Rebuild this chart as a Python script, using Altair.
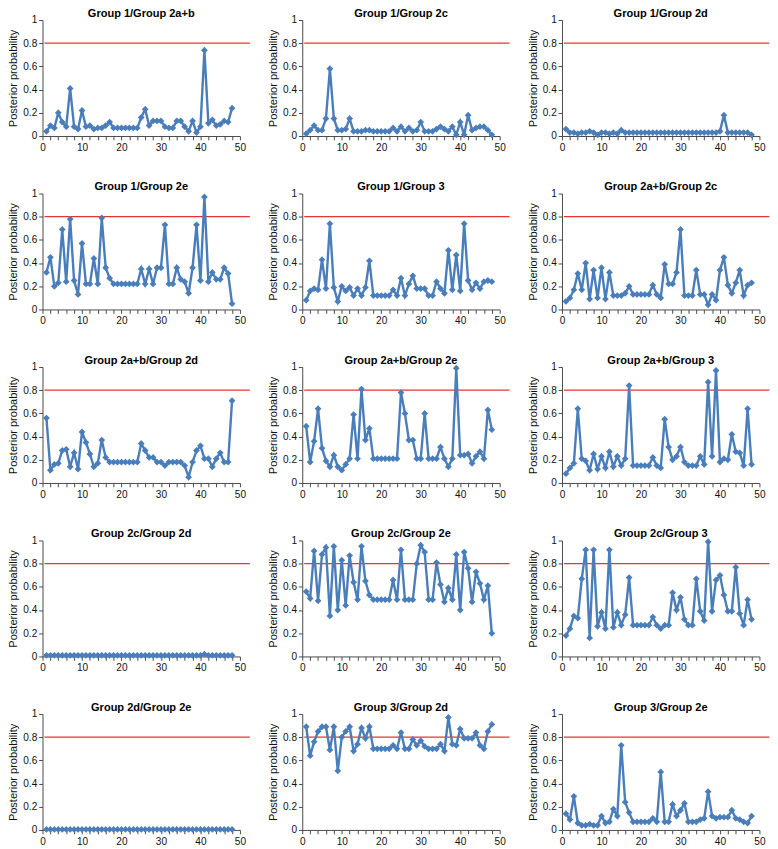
import altair as alt
import pandas as pd

x_vals = list(range(1, 49))

names = [
    "Group 1/Group 2a+b", "Group 1/Group 2c", "Group 1/Group 2d",
    "Group 1/Group 2e", "Group 1/Group 3", "Group 2a+b/Group 2c",
    "Group 2a+b/Group 2d", "Group 2a+b/Group 2e", "Group 2a+b/Group 3",
    "Group 2c/Group 2d", "Group 2c/Group 2e", "Group 2c/Group 3",
    "Group 2d/Group 2e", "Group 3/Group 2d", "Group 3/Group 2e",
]

g1_g2ab = [0.04, 0.09, 0.07, 0.20, 0.12, 0.08, 0.41, 0.08, 0.06, 0.22, 0.08, 0.09,
           0.06, 0.07, 0.07, 0.09, 0.12, 0.07, 0.07, 0.07, 0.07, 0.07, 0.07, 0.07,
           0.16, 0.23, 0.09, 0.13, 0.13, 0.13, 0.08, 0.07, 0.07, 0.13, 0.13, 0.08,
           0.04, 0.13, 0.03, 0.08, 0.74, 0.11, 0.14, 0.09, 0.10, 0.13, 0.12, 0.24]
g1_g2c = [0.02, 0.05, 0.09, 0.05, 0.05, 0.15, 0.58, 0.15, 0.05, 0.05, 0.06, 0.15,
          0.04, 0.04, 0.04, 0.05, 0.05, 0.04, 0.04, 0.04, 0.04, 0.04, 0.07, 0.04,
          0.08, 0.04, 0.07, 0.04, 0.05, 0.12, 0.04, 0.04, 0.04, 0.06, 0.08, 0.06,
          0.04, 0.08, 0.01, 0.12, 0.01, 0.18, 0.05, 0.07, 0.08, 0.08, 0.05, 0.01]
g1_g2d = [0.06, 0.03, 0.03, 0.02, 0.03, 0.03, 0.04, 0.03, 0.01, 0.03, 0.03, 0.02,
          0.03, 0.02, 0.05, 0.03, 0.03, 0.03, 0.03, 0.03, 0.03, 0.03, 0.03, 0.03,
          0.03, 0.03, 0.03, 0.03, 0.03, 0.03, 0.03, 0.03, 0.03, 0.03, 0.03, 0.03,
          0.03, 0.03, 0.03, 0.04, 0.18, 0.03, 0.03, 0.03, 0.03, 0.03, 0.03, 0.01]
g1_g2e = [0.32, 0.45, 0.20, 0.23, 0.69, 0.24, 0.78, 0.25, 0.13, 0.57, 0.22, 0.22,
          0.44, 0.22, 0.79, 0.36, 0.27, 0.22, 0.22, 0.22, 0.22, 0.22, 0.22, 0.22,
          0.35, 0.22, 0.35, 0.22, 0.36, 0.36, 0.73, 0.22, 0.22, 0.36, 0.26, 0.24,
          0.14, 0.36, 0.73, 0.25, 0.97, 0.24, 0.32, 0.26, 0.26, 0.36, 0.31, 0.05]
g1_g3 = [0.08, 0.16, 0.18, 0.17, 0.43, 0.18, 0.74, 0.19, 0.07, 0.20, 0.16, 0.19,
         0.12, 0.18, 0.12, 0.19, 0.42, 0.12, 0.12, 0.12, 0.12, 0.12, 0.17, 0.12,
         0.27, 0.12, 0.22, 0.29, 0.18, 0.18, 0.18, 0.12, 0.12, 0.24, 0.18, 0.14,
         0.51, 0.17, 0.47, 0.16, 0.74, 0.25, 0.17, 0.23, 0.18, 0.24, 0.25, 0.24]
g2ab_g2c = [0.07, 0.10, 0.17, 0.31, 0.17, 0.40, 0.09, 0.34, 0.10, 0.36, 0.09, 0.32,
            0.12, 0.12, 0.12, 0.14, 0.20, 0.13, 0.13, 0.13, 0.13, 0.13, 0.21, 0.13,
            0.10, 0.39, 0.22, 0.22, 0.32, 0.69, 0.12, 0.12, 0.12, 0.34, 0.13, 0.13,
            0.04, 0.13, 0.08, 0.34, 0.45, 0.21, 0.14, 0.23, 0.34, 0.12, 0.21, 0.23]
g2ab_g2d = [0.56, 0.11, 0.16, 0.17, 0.28, 0.29, 0.14, 0.26, 0.12, 0.44, 0.35, 0.25,
            0.14, 0.17, 0.37, 0.22, 0.18, 0.18, 0.18, 0.18, 0.18, 0.18, 0.18, 0.18,
            0.34, 0.28, 0.22, 0.22, 0.18, 0.18, 0.15, 0.18, 0.18, 0.18, 0.18, 0.15,
            0.05, 0.18, 0.28, 0.32, 0.21, 0.21, 0.14, 0.21, 0.26, 0.18, 0.18, 0.71]
g2ab_g2e = [0.49, 0.18, 0.36, 0.64, 0.30, 0.19, 0.14, 0.24, 0.14, 0.11, 0.16, 0.21,
            0.59, 0.21, 0.81, 0.37, 0.47, 0.21, 0.21, 0.21, 0.21, 0.21, 0.21, 0.21,
            0.78, 0.60, 0.37, 0.37, 0.21, 0.21, 0.60, 0.21, 0.21, 0.21, 0.31, 0.21,
            0.14, 0.21, 0.99, 0.24, 0.24, 0.25, 0.17, 0.23, 0.27, 0.21, 0.63, 0.46]
g2ab_g3 = [0.08, 0.13, 0.17, 0.64, 0.21, 0.19, 0.11, 0.25, 0.12, 0.23, 0.13, 0.27,
           0.14, 0.23, 0.15, 0.21, 0.84, 0.15, 0.15, 0.15, 0.15, 0.15, 0.22, 0.15,
           0.13, 0.55, 0.31, 0.20, 0.23, 0.31, 0.18, 0.15, 0.15, 0.15, 0.23, 0.16,
           0.87, 0.23, 0.97, 0.18, 0.21, 0.20, 0.42, 0.27, 0.26, 0.15, 0.64, 0.16]
g2c_g2d = [0.01, 0.01, 0.01, 0.01, 0.01, 0.01, 0.01, 0.01, 0.01, 0.01, 0.01, 0.01,
           0.01, 0.01, 0.01, 0.01, 0.01, 0.01, 0.01, 0.01, 0.01, 0.01, 0.01, 0.01,
           0.01, 0.01, 0.01, 0.01, 0.01, 0.01, 0.01, 0.01, 0.01, 0.01, 0.01, 0.01,
           0.01, 0.01, 0.01, 0.01, 0.02, 0.01, 0.01, 0.01, 0.01, 0.01, 0.01, 0.01]
g2c_g2e = [0.56, 0.50, 0.91, 0.48, 0.88, 0.94, 0.35, 0.95, 0.40, 0.83, 0.44, 0.87,
           0.64, 0.49, 0.95, 0.65, 0.53, 0.49, 0.49, 0.49, 0.49, 0.49, 0.66, 0.49,
           0.92, 0.49, 0.49, 0.49, 0.80, 0.96, 0.90, 0.49, 0.49, 0.81, 0.62, 0.47,
           0.59, 0.49, 0.88, 0.40, 0.90, 0.76, 0.47, 0.73, 0.63, 0.49, 0.61, 0.20]
g2c_g3 = [0.18, 0.24, 0.35, 0.33, 0.67, 0.92, 0.16, 0.92, 0.26, 0.38, 0.24, 0.92,
          0.25, 0.38, 0.27, 0.36, 0.68, 0.27, 0.27, 0.27, 0.27, 0.27, 0.34, 0.27,
          0.24, 0.27, 0.27, 0.55, 0.40, 0.51, 0.32, 0.27, 0.27, 0.67, 0.39, 0.31,
          0.99, 0.39, 0.66, 0.70, 0.53, 0.39, 0.39, 0.77, 0.37, 0.27, 0.49, 0.32]
g2d_g2e = [0.005, 0.005, 0.005, 0.005, 0.005, 0.005, 0.005, 0.005, 0.005, 0.005, 0.005, 0.005,
           0.005, 0.005, 0.005, 0.005, 0.005, 0.005, 0.005, 0.005, 0.005, 0.005, 0.005, 0.005,
           0.005, 0.005, 0.005, 0.005, 0.005, 0.005, 0.005, 0.005, 0.005, 0.005, 0.005, 0.005,
           0.005, 0.005, 0.005, 0.005, 0.005, 0.005, 0.005, 0.005, 0.005, 0.005, 0.005, 0.005]
g3_g2d = [0.89, 0.64, 0.76, 0.85, 0.89, 0.89, 0.69, 0.89, 0.51, 0.80, 0.85, 0.89,
          0.68, 0.74, 0.88, 0.79, 0.89, 0.70, 0.70, 0.70, 0.70, 0.70, 0.73, 0.70,
          0.84, 0.70, 0.70, 0.78, 0.73, 0.77, 0.72, 0.70, 0.70, 0.70, 0.74, 0.68,
          0.97, 0.74, 0.73, 0.87, 0.79, 0.79, 0.79, 0.84, 0.73, 0.70, 0.85, 0.91]
g3_g2e = [0.14, 0.09, 0.29, 0.06, 0.04, 0.04, 0.05, 0.04, 0.04, 0.12, 0.06, 0.07,
          0.18, 0.12, 0.73, 0.24, 0.15, 0.07, 0.07, 0.07, 0.07, 0.07, 0.10, 0.07,
          0.50, 0.07, 0.07, 0.22, 0.12, 0.17, 0.23, 0.07, 0.07, 0.07, 0.09, 0.10,
          0.33, 0.12, 0.10, 0.11, 0.11, 0.11, 0.17, 0.10, 0.09, 0.07, 0.06, 0.12]

series = [g1_g2ab, g1_g2c, g1_g2d, g1_g2e, g1_g3, g2ab_g2c, g2ab_g2d, g2ab_g2e,
          g2ab_g3, g2c_g2d, g2c_g2e, g2c_g3, g2d_g2e, g3_g2d, g3_g2e]

threshold = 0.8
threshold_span = [0.5, 52.5]
x_ticks = list(range(0, 51, 2))
y_ticks = [0, 0.2, 0.4, 0.6, 0.8, 1.0]

BLUE = "#4a7ebb"
RED = "#e8342f"
FONT = "Liberation Sans"
W, H = 206, 121

x_axis = alt.Axis(values=x_ticks, labelExpr="datum.value % 10 == 0 ? datum.label : ''",
                  title=None, tickSize=4, grid=False, labelFontSize=10.5,
                  labelPadding=3, labelOverlap=False, labelFlush=False)
y_axis = alt.Axis(values=y_ticks, format="~g", title="Posterior probability",
                  tickSize=4, grid=False, labelFontSize=10.5, titleFontSize=11.5,
                  titleFontWeight="normal", titlePadding=4, labelOverlap=False,
                  labelFlush=False)
enc_x = alt.X("x:Q", scale=alt.Scale(domain=[0, 50], nice=False), axis=x_axis)
enc_y = alt.Y("y:Q", scale=alt.Scale(domain=[0, 1], nice=False), axis=y_axis)


def panel(name, vals):
    df = pd.DataFrame({"x": x_vals, "y": vals})
    base = alt.Chart(df)
    line = base.mark_line(color=BLUE, strokeWidth=2.5).encode(x=enc_x, y=enc_y)
    pts = base.mark_point(shape="diamond", filled=True, size=50, color=BLUE,
                          opacity=1).encode(x=enc_x, y=enc_y)
    thr_df = pd.DataFrame({"x": [threshold_span[0]], "x2": [threshold_span[1]],
                           "y": [threshold]})
    thr = alt.Chart(thr_df).mark_rule(color=RED, strokeWidth=1.3, clip=False).encode(
        x=enc_x, x2="x2:Q", y=enc_y)
    return alt.layer(thr, line, pts).properties(
        width=W, height=H,
        title=alt.TitleParams(name, fontSize=11.5, fontWeight="bold", font=FONT,
                              color="#000", offset=-4))


rows = []
for r in range(5):
    cells = [panel(names[r * 3 + c], series[r * 3 + c]) for c in range(3)]
    rows.append(alt.hconcat(*cells, spacing=18))

chart = alt.vconcat(*rows, spacing=29).properties(
    padding={"left": 0, "top": -19, "right": 0, "bottom": 0}
).configure(font=FONT).configure_view(stroke=None).configure_axis(
    labelFont=FONT, titleFont=FONT, labelColor="#111", titleColor="#111",
    domainColor="#444", tickColor="#444", domainWidth=1, labelOverlap=False
)

chart.save("out.html", embed_options={"renderer": "svg", "actions": False})
